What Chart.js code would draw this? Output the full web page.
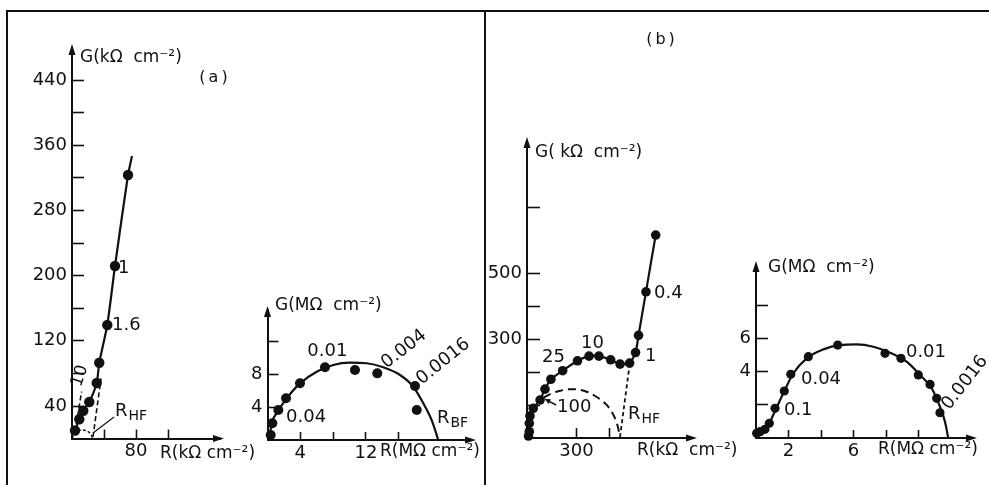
<!DOCTYPE html>
<html><head><meta charset="utf-8">
<script src="https://cdn.jsdelivr.net/npm/chart.js@4.4.0/dist/chart.umd.min.js"></script>
<style>
html,body{margin:0;padding:0;background:#fff;}
#wrap{position:relative;width:989px;height:485px;overflow:hidden;background:#fff;}
#wrap canvas{position:absolute;left:0;top:0;}
.ln{position:absolute;background:#111;}
</style></head><body>
<div id="wrap">
<div class="ln" style="left:6px;top:10px;width:2px;height:475px"></div>
<div class="ln" style="left:6px;top:10px;width:983px;height:2px"></div>
<div class="ln" style="left:484px;top:10px;width:2px;height:475px"></div>
<canvas id="cA" width="989" height="485"></canvas>
<canvas id="cAi" width="989" height="485"></canvas>
<canvas id="cB" width="989" height="485"></canvas>
<canvas id="cBi" width="989" height="485"></canvas>
</div>
<script>
// ---------- DATA ----------
// (a) main: R (kOhm cm2), G (kOhm cm2)
const aMainR = [3.75, 9.1, 14.1, 21.6, 30.9, 34.1, 44.1, 53.75, 70];
const aMainG = [9.9, 23.7, 34.2, 44.9, 68.2, 93.1, 139.4, 211.8, 323.4];
const aLineR = [3.75, 9.1, 14.1, 21.6, 30.9, 34.1, 44.1, 53.75, 70, 75];
const aLineG = [9.9, 23.7, 34.2, 44.9, 68.2, 93.1, 139.4, 211.8, 323.4, 346.7];
const aDash1R = [3.75, 12];
const aDash1G = [8.1, 57.5];
const aDash2R = [26.25, 36.25];
const aDash2G = [2, 74];
const aArcR = [0, 3, 8, 13, 18, 23, 26.25];
const aArcG = [0, 6, 9.5, 10.5, 9.5, 6, 0];
const aLeadR = [26.25, 52.5];
const aLeadG = [6.9, 26.5];
const aMainXTicks = [40, 80, 120];
const aMainXLabels = [80];
const aMainYTicks = [40, 80, 120, 160, 200, 240, 280, 320, 360, 400, 440];
const aMainYLabels = [40, 120, 200, 280, 360, 440];

// (a) inset: R (MOhm cm2), G (MOhm cm2)
const aInR = [0.39, 0.59, 1.32, 2.26, 3.96, 7.01, 10.67, 13.39, 17.99, 18.2];
const aInG = [0.61, 2.02, 3.64, 5.05, 6.87, 8.81, 8.48, 8.08, 6.55, 3.64];
const aFitR = [0.22, 0.51, 1.12, 2.34, 3.96, 6.0, 8.02, 10.06, 12.1, 14.12, 16.16, 17.78, 19.0, 20.02, 20.83];
const aFitG = [0.08, 2.02, 3.24, 5.05, 6.87, 8.28, 9.09, 9.37, 9.3, 8.81, 7.88, 6.46, 4.45, 2.42, 0.0];
const aInXTicks = [4, 8, 12, 16];
const aInXLabels = [4, 12];
const aInYTicks = [4, 8, 12];
const aInYLabels = [4, 8];

// (b) main: R (kOhm cm2), G (kOhm cm2)
const bMainR = [9, 14, 14, 18, 38, 79, 109, 145, 216, 306, 376, 436, 507, 564, 622, 658, 676, 721, 780];
const bMainG = [6, 19, 44.5, 66.7, 90, 115, 148, 178, 204, 234, 248, 248, 237, 224, 227, 259, 311, 443, 615];
const bArcR = [100, 150, 200, 260, 320, 362, 410, 462, 500, 533, 550, 563.6];
const bArcG = [122, 135, 143, 148, 146, 140, 128, 110, 90, 60, 35, 5];
const bHfR = [563.6, 624];
const bHfG = [3, 230];
const bMainXTicks = [300, 500];
const bMainXLabels = [300];
const bMainYTicks = [100, 200, 300, 400, 500, 700];
const bMainYLabels = [300, 500];

// (b) inset: R (MOhm cm2), G (MOhm cm2)
const bInR = [0.04, 0.25, 0.55, 0.82, 1.17, 1.74, 2.14, 3.22, 5.03, 7.94, 8.92, 9.99, 10.71, 11.12, 11.32];
const bInG = [0.28, 0.38, 0.52, 0.89, 1.79, 2.83, 3.84, 4.9, 5.6, 5.1, 4.8, 3.8, 3.23, 2.39, 1.52];
const bFitR = [0, 0.66, 1.06, 1.68, 2.30, 3.12, 4.14, 5.17, 6.20, 7.22, 8.25, 9.27, 10.09, 10.81, 11.32, 11.63, 11.83];
const bFitG = [0.08, 0.58, 1.39, 2.69, 3.9, 4.8, 5.34, 5.6, 5.64, 5.5, 5.14, 4.6, 3.8, 3.0, 1.89, 0.98, 0];
const bInXTicks = [2, 4, 6, 8, 10];
const bInXLabels = [2, 6];
const bInYTicks = [2, 4, 6, 8];
const bInYLabels = [4, 6];

// ---------- RENDERING ----------
const FONT = "'DejaVu Sans', sans-serif";
const INK = '#111';
Chart.defaults.font.family = FONT;
Chart.defaults.color = INK;

function pts(xs, ys) { return xs.map((x, i) => ({ x: x, y: ys[i] })); }

function drawRich(ctx, it, x, y) {
  ctx.save();
  ctx.translate(x, y);
  if (it.rot) ctx.rotate(it.rot * Math.PI / 180);
  const size = it.size || 18;
  const subSize = Math.round(size * 0.78);
  ctx.fillStyle = INK;
  ctx.textBaseline = 'middle';
  ctx.textAlign = 'left';
  try { ctx.letterSpacing = (it.ls || 0) + 'px'; } catch (e) {}
  ctx.font = size + 'px ' + FONT;
  const w = ctx.measureText(it.t).width;
  let sw = 0;
  if (it.sub) { ctx.font = subSize + 'px ' + FONT; sw = ctx.measureText(it.sub).width + 1; }
  const total = w + sw;
  const x0 = it.align === 'center' ? -total / 2 : (it.align === 'right' ? -total : 0);
  ctx.font = size + 'px ' + FONT;
  ctx.fillText(it.t, x0, 0);
  if (it.sub) { ctx.font = subSize + 'px ' + FONT; ctx.fillText(it.sub, x0 + w + 1, size * 0.32); }
  ctx.restore();
}

function makeChart(id, cfg) {
  const r = cfg.rect;
  const xMax = (r.R - r.L) / cfg.kx;
  const yMax = (r.B - r.T) / cfg.ky;
  const WY = 60, HX = 30;
  const plugin = {
    id: 'ov_' + id,
    afterDraw(chart) {
      const ctx = chart.ctx, a = chart.chartArea, sx = chart.scales.x, sy = chart.scales.y;
      ctx.save();
      ctx.fillStyle = INK;
      // axis arrowheads
      ctx.beginPath(); ctx.moveTo(a.left, a.top - 4); ctx.lineTo(a.left - 3.5, a.top + 7); ctx.lineTo(a.left + 3.5, a.top + 7); ctx.closePath(); ctx.fill();
      ctx.beginPath(); ctx.moveTo(a.right + 4, a.bottom); ctx.lineTo(a.right - 7, a.bottom - 3.5); ctx.lineTo(a.right - 7, a.bottom + 3.5); ctx.closePath(); ctx.fill();
      // pointer arrows (data coords)
      (cfg.pointers || []).forEach(p => {
        const x1 = sx.getPixelForValue(p.x1), y1 = sy.getPixelForValue(p.y1);
        const x2 = sx.getPixelForValue(p.x2), y2 = sy.getPixelForValue(p.y2);
        ctx.strokeStyle = INK; ctx.lineWidth = 1.5;
        ctx.beginPath(); ctx.moveTo(x1, y1); ctx.lineTo(x2, y2); ctx.stroke();
        const ang = Math.atan2(y2 - y1, x2 - x1);
        ctx.beginPath();
        ctx.moveTo(x2, y2);
        ctx.lineTo(x2 - 6 * Math.cos(ang - 0.45), y2 - 6 * Math.sin(ang - 0.45));
        ctx.lineTo(x2 - 6 * Math.cos(ang + 0.45), y2 - 6 * Math.sin(ang + 0.45));
        ctx.closePath(); ctx.fill();
      });
      ctx.restore();
      // labels in data coords
      (cfg.texts || []).forEach(t => drawRich(ctx, t, sx.getPixelForValue(t.x), sy.getPixelForValue(t.y)));
      // labels relative to chart area
      (cfg.relTexts || []).forEach(t => {
        const px = (t.ref === 'R' ? a.right : a.left) + t.dx;
        const py = (t.vref === 'B' ? a.bottom : a.top) + t.dy;
        drawRich(ctx, t, px, py);
      });
    }
  };
  const scaleX = {
    type: 'linear', position: 'bottom', min: 0, max: xMax,
    afterBuildTicks: s => { s.ticks = cfg.xTicks.map(v => ({ value: v })); },
    afterFit: s => { s.height = HX; },
    grid: { drawOnChartArea: false, drawTicks: true, tickLength: -cfg.xTL, tickWidth: 1.6, tickColor: INK },
    border: { display: true, color: INK, width: 2 },
    ticks: { autoSkip: false, maxRotation: 0, minRotation: 0, padding: cfg.xTL + 4, color: INK,
      font: { family: FONT, size: 18, lineHeight: 1 },
      callback: v => cfg.xLabels.includes(v) ? String(v) : '' }
  };
  const scaleY = {
    type: 'linear', position: 'left', min: 0, max: yMax,
    afterBuildTicks: s => { s.ticks = cfg.yTicks.map(v => ({ value: v })); },
    afterFit: s => { s.width = WY; },
    grid: { drawOnChartArea: false, drawTicks: true, tickLength: -cfg.yTL, tickWidth: 1.6, tickColor: INK },
    border: { display: true, color: INK, width: 2 },
    ticks: { autoSkip: false, padding: cfg.yTL + 5, color: INK,
      font: { family: FONT, size: 18, lineHeight: 1 },
      callback: v => cfg.yLabels.includes(v) ? String(v) : '' }
  };
  return new Chart(document.getElementById(id), {
    type: 'scatter',
    data: { datasets: cfg.datasets },
    options: {
      responsive: false, animation: false, events: [],
      layout: { padding: { left: r.L - WY, right: 989 - r.R, top: r.T, bottom: 485 - r.B - HX } },
      plugins: { legend: { display: false }, tooltip: { enabled: false } },
      scales: { x: scaleX, y: scaleY }
    },
    plugins: [plugin]
  });
}

function lineDS(xs, ys, opt) {
  return Object.assign({ data: pts(xs, ys), showLine: true, pointRadius: 0, borderColor: INK,
    borderWidth: 2, backgroundColor: INK, clip: false, tension: 0 }, opt || {});
}
function dotDS(xs, ys, rad) {
  return { data: pts(xs, ys), showLine: false, pointRadius: rad, pointBackgroundColor: INK,
    pointBorderColor: INK, pointBorderWidth: 0, clip: false };
}

// (a) main
makeChart('cA', {
  rect: { L: 72, R: 220, T: 48, B: 438.6 }, kx: 0.8, ky: 0.815,
  xTicks: aMainXTicks, xLabels: aMainXLabels, yTicks: aMainYTicks, yLabels: aMainYLabels,
  xTL: 9, yTL: 12,
  datasets: [
    lineDS(aDash1R, aDash1G, { borderWidth: 1.6, borderDash: [5, 3] }),
    lineDS(aDash2R, aDash2G, { borderWidth: 1.6, borderDash: [5, 3] }),
    lineDS(aArcR, aArcG, { borderWidth: 1.4, borderDash: [3, 2], cubicInterpolationMode: 'monotone' }),
    lineDS(aLeadR, aLeadG, { borderWidth: 1.2 }),
    lineDS(aLineR, aLineG, { borderWidth: 2.2, tension: 0.2 }),
    dotDS(aMainR, aMainG, 5.2)
  ],
  texts: [
    { t: '1', x: 57.5, y: 209 },
    { t: '1.6', x: 50, y: 139 },
    { t: '10', x: 10, y: 77, align: 'center', rot: -72, size: 17 },
    { t: 'R', sub: 'HF', x: 53.75, y: 34 }
  ],
  relTexts: [
    { t: 'G(kΩ  cm⁻²)', dx: 8, dy: 10, size: 17 },
    { t: 'R(kΩ cm⁻²)', ref: 'R', dx: -60, vref: 'B', dy: 14.5, size: 17 },
    { t: '(a)', dx: 143, dy: 29.5, size: 16, align: 'center', ls: 3 }
  ]
});

// (a) inset
makeChart('cAi', {
  rect: { L: 267.5, R: 472, T: 310, B: 440 }, kx: 8.2, ky: 8.25,
  xTicks: aInXTicks, xLabels: aInXLabels, yTicks: aInYTicks, yLabels: aInYLabels,
  xTL: 8, yTL: 11,
  datasets: [
    lineDS(aFitR, aFitG, { borderWidth: 2.2, cubicInterpolationMode: 'monotone' }),
    dotDS(aInR, aInG, 5)
  ],
  texts: [
    { t: '0.01', x: 7.3, y: 10.7, align: 'center' },
    { t: '0.004', x: 16.65, y: 11.0, align: 'center', rot: -38 },
    { t: '0.0016', x: 21.44, y: 9.5, align: 'center', rot: -39 },
    { t: '0.04', x: 4.7, y: 2.7, align: 'center' },
    { t: 'R', sub: 'BF', x: 20.67, y: 2.67 }
  ],
  relTexts: [
    { t: 'G(MΩ  cm⁻²)', dx: 7.5, dy: -4, size: 17 },
    { t: 'R(MΩ cm⁻²)', ref: 'R', dx: -92, vref: 'B', dy: 12, size: 17 }
  ]
});

// (b) main
makeChart('cB', {
  rect: { L: 527, R: 693, T: 141, B: 438 }, kx: 0.165, ky: 0.33,
  xTicks: bMainXTicks, xLabels: bMainXLabels, yTicks: bMainYTicks, yLabels: bMainYLabels,
  xTL: 10, yTL: 13,
  datasets: [
    lineDS(bArcR, bArcG, { borderWidth: 2, borderDash: [8, 5], cubicInterpolationMode: 'monotone' }),
    lineDS(bHfR, bHfG, { borderWidth: 1.8, borderDash: [4, 3] }),
    lineDS(bMainR, bMainG, { borderWidth: 2.2, tension: 0.2 }),
    dotDS(bMainR, bMainG, 4.8)
  ],
  texts: [
    { t: '25', x: 160.6, y: 244, align: 'center' },
    { t: '10', x: 397, y: 286, align: 'center' },
    { t: '1', x: 715, y: 248 },
    { t: '0.4', x: 770, y: 438 },
    { t: '100', x: 181.8, y: 94 },
    { t: 'R', sub: 'HF', x: 612, y: 72.7 }
  ],
  pointers: [{ x1: 176, y1: 100, x2: 109, y2: 118 }],
  relTexts: [
    { t: 'G( kΩ  cm⁻²)', dx: 8, dy: 12, size: 17 },
    { t: 'R(kΩ  cm⁻²)', ref: 'R', dx: -56, vref: 'B', dy: 13, size: 17 },
    { t: '(b)', dx: 135, dy: -101, size: 16, align: 'center', ls: 3 }
  ]
});

// (b) inset
makeChart('cBi', {
  rect: { L: 756, R: 973, T: 265, B: 438 }, kx: 16.25, ky: 16.6,
  xTicks: bInXTicks, xLabels: bInXLabels, yTicks: bInYTicks, yLabels: bInYLabels,
  xTL: 8, yTL: 12,
  datasets: [
    lineDS(bFitR, bFitG, { borderWidth: 2.2, cubicInterpolationMode: 'monotone' }),
    dotDS(bInR, bInG, 4.6)
  ],
  texts: [
    { t: '0.1', x: 2.6, y: 1.66, align: 'center' },
    { t: '0.04', x: 4.0, y: 3.52, align: 'center' },
    { t: '0.01', x: 10.46, y: 5.15, align: 'center' },
    { t: '0.0016', x: 12.86, y: 3.33, align: 'center', rot: -52 }
  ],
  relTexts: [
    { t: 'G(MΩ  cm⁻²)', dx: 12, dy: 3, size: 17 },
    { t: 'R(MΩ cm⁻²)', ref: 'R', dx: -95, vref: 'B', dy: 12, size: 17 }
  ]
});
</script>
</body></html>
